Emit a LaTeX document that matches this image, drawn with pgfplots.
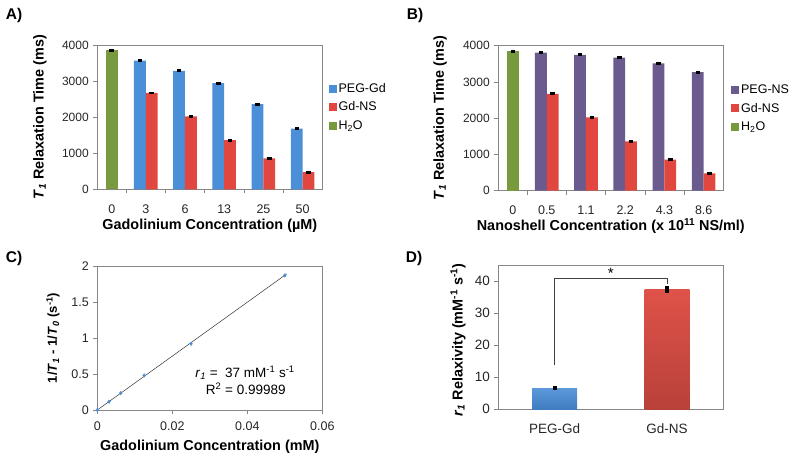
\documentclass[border=0pt]{standalone}
\usepackage{fontspec}
\setmainfont{Liberation Sans}
\usepackage{pgfplots}
\pgfplotsset{compat=1.18}

\definecolor{axgray}{HTML}{868686}
\definecolor{pegblue}{HTML}{4A8FD7}
\definecolor{gdred}{HTML}{E1473E}
\definecolor{watergreen}{HTML}{779A3E}
\definecolor{nspurple}{HTML}{6B5A8E}
\definecolor{dblueT}{HTML}{5C98DA}
\definecolor{dblueB}{HTML}{3F7CC0}
\definecolor{dredT}{HTML}{DF5249}
\definecolor{dredB}{HTML}{B8413A}

\newcommand{\tfont}{\fontsize{12.5}{14}\selectfont}
\newcommand{\lfont}{\bfseries\fontsize{14.4}{16}\selectfont}

\pgfplotsset{
  panel/.style={
    scale only axis, width=225pt, height=144pt, anchor=south west,
    axis line style={axgray, line width=0.6pt},
    tick style={axgray, line width=0.6pt},
    tick align=outside, major tick length=4pt, tick pos=left,
    every tick label/.append style={font=\tfont, text=black!85},
    xticklabel style={yshift=-4pt},
    yticklabel style={xshift=-1pt},
    xlabel style={font=\lfont},
    ylabel style={font=\lfont},
    scaled ticks=false,
    clip=false,
  },
  barpanel/.style={
    panel,
    xmin=-0.235, xmax=5.5, ymin=0, ymax=4000,
    ytick={0,1000,2000,3000,4000},
    yticklabels={0,1000,2000,3000,4000},
    yticklabel style={font=\fontsize{12}{14}\selectfont},
    xtick={0.5,1.5,2.5,3.5,4.5}, xticklabels={},
    extra x ticks={0.133,1,2,3,4,5},
    extra x tick style={major tick length=0pt, xticklabel style={yshift=-8pt}},
    legend cell align=left,
    legend style={draw=none, fill=none, font=\fontsize{12.5}{14}\selectfont,
      inner sep=0pt, row sep=4pt, anchor=west},
    legend image code/.code={\fill[##1] (0pt,-4pt) rectangle (8pt,4pt);},
  },
  bars/.style={ybar, bar width=0.3, bar shift=0pt, draw=none, fill=#1,
    error bars/.cd, y dir=both, y explicit, error mark=none,
    error bar style={black, line width=4.5pt}},
}

\begin{document}
\begin{tikzpicture}
\path[use as bounding box] (0,0) rectangle (800pt,459pt);

\node[font=\bfseries\fontsize{15.5}{18}\selectfont] at (14pt,444pt) {A)};
\node[font=\bfseries\fontsize{15.5}{18}\selectfont] at (415pt,444pt) {B)};
\node[font=\bfseries\fontsize{15.5}{18}\selectfont] at (14pt,201pt) {C)};
\node[font=\bfseries\fontsize{15.5}{18}\selectfont] at (414pt,201pt) {D)};

% A
\begin{axis}[barpanel, at={(97.3pt,269.7pt)}, height=144.3pt,
  extra x tick labels={0,3,6,13,25,50},
  xlabel={Gadolinium Concentration (µM)},
  xlabel style={at={(axis description cs:0.5,-0.255)}, anchor=center},
  ylabel={\textit{T}\textsubscript{\textit{1}} Relaxation Time (ms)},
  ylabel style={at={(axis description cs:-0.255,0.5)}, anchor=center},
  legend style={at={(axis description cs:1.027,0.57)}}]
\addplot[bars=pegblue] coordinates {(0.85,3570) +- (0,40) (1.85,3285) +- (0,40) (2.85,2940) +- (0,40) (3.85,2360) +- (0,40) (4.85,1685) +- (0,40)};
\addplot[bars=gdred] coordinates {(1.15,2670) +- (0,40) (2.15,2020) +- (0,40) (3.15,1360) +- (0,40) (4.15,860) +- (0,40) (5.15,475) +- (0,40)};
\addplot[bars=watergreen] coordinates {(0.133,3850) +- (0,40)};
\legend{PEG-Gd, Gd-NS, H\textsubscript{2}O}
\end{axis}

% B
\begin{axis}[barpanel, at={(498.3pt,268.3pt)}, height=145pt,
  extra x tick labels={0,0.5,1.1,2.2,4.3,8.6},
  xlabel={Nanoshell Concentration (x 10\textsuperscript{11} NS/ml)},
  xlabel style={at={(axis description cs:0.5,-0.243)}, anchor=center},
  ylabel={\textit{T}\textsubscript{\textit{1}} Relaxation Time (ms)},
  ylabel style={at={(axis description cs:-0.259,0.5)}, anchor=center},
  legend style={at={(axis description cs:1.034,0.568)}}]
\addplot[bars=nspurple] coordinates {(0.85,3810) +- (0,40) (1.85,3750) +- (0,40) (2.85,3670) +- (0,40) (3.85,3510) +- (0,40) (4.85,3270) +- (0,40)};
\addplot[bars=gdred] coordinates {(1.15,2670) +- (0,40) (2.15,2025) +- (0,40) (3.15,1360) +- (0,40) (4.15,860) +- (0,40) (5.15,478) +- (0,40)};
\addplot[bars=watergreen] coordinates {(0.135,3850) +- (0,40)};
\legend{PEG-NS, Gd-NS, H\textsubscript{2}O}
\end{axis}

% C
\begin{axis}[panel, at={(97.3pt,49pt)},
  xmin=0, xmax=0.06, ymin=0, ymax=2,
  xtick={0,0.02,0.04,0.06}, xticklabels={0,0.02,0.04,0.06},
  ytick={0,0.5,1,1.5,2}, yticklabels={0,0.5,1,1.5,2},
  xlabel={Gadolinium Concentration (mM)},
  xlabel style={at={(axis description cs:0.5,-0.255)}, anchor=center},
  ylabel={1/\textit{T}\textsubscript{\textit{1}} - 1/\textit{T}\textsubscript{\textit{0}} (s\textsuperscript{-1})},
  ylabel style={at={(axis description cs:-0.197,0.5)}, anchor=center,
    font=\bfseries\fontsize{13}{15}\selectfont}]
\addplot[black!80, line width=0.5pt, no marks] coordinates {(0,0) (0.0505,1.89)};
\addplot[only marks, mark=diamond*, mark size=1.8pt, color=pegblue] coordinates {(0,0) (0.003125,0.115) (0.00625,0.235) (0.0125,0.48) (0.025,0.92) (0.05,1.87)};
\node[font=\fontsize{13.5}{15}\selectfont, anchor=center] at (axis cs:0.0394,0.514) {\textit{r}\textsubscript{\textit{1}} =\ \ 37 mM\textsuperscript{-1} s\textsuperscript{-1}};
\node[font=\fontsize{13.5}{15}\selectfont, anchor=center] at (axis cs:0.0396,0.29) {R\textsuperscript{2} = 0.99989};
\end{axis}

% D
\begin{axis}[panel, at={(498.3pt,49.7pt)}, height=144.3pt,
  xmin=-0.5, xmax=1.5, ymin=0, ymax=45,
  xtick={0,1}, xticklabels={PEG-Gd,Gd-NS}, xtick style={draw=none},
  xticklabel style={yshift=-3pt, font=\fontsize{13.5}{15}\selectfont},
  yticklabel style={font=\fontsize{13.5}{15}\selectfont},
  ytick={0,10,20,30,40}, yticklabels={0,10,20,30,40},
  ylabel={\textit{r}\textsubscript{\textit{1}} Relaxivity (mM\textsuperscript{-1} s\textsuperscript{-1})},
  ylabel style={at={(axis description cs:-0.179,0.48)}, anchor=center}]
\addplot[ybar, bar width=0.4, bar shift=0pt, draw=none, top color=dblueT, bottom color=dblueB,
  error bars/.cd, y dir=both, y explicit, error mark=none,
  error bar style={black, line width=4pt}] coordinates {(0,6.6) +- (0,0.6)};
\addplot[ybar, bar width=0.4, bar shift=0pt, draw=none, top color=dredT, bottom color=dredB,
  error bars/.cd, y dir=both, y explicit, error mark=none,
  error bar style={black, line width=4.5pt}] coordinates {(1,37.3) +- (0,1.1)};
\draw[black!75, line width=0.6pt] (axis cs:0,13.8) -- (axis cs:0,40.7) -- (axis cs:1,40.7) -- (axis cs:1,39.2);
\node[font=\fontsize{15}{17}\selectfont] at (axis cs:0.5,42.3) {*};
\end{axis}
\end{tikzpicture}
\end{document}
